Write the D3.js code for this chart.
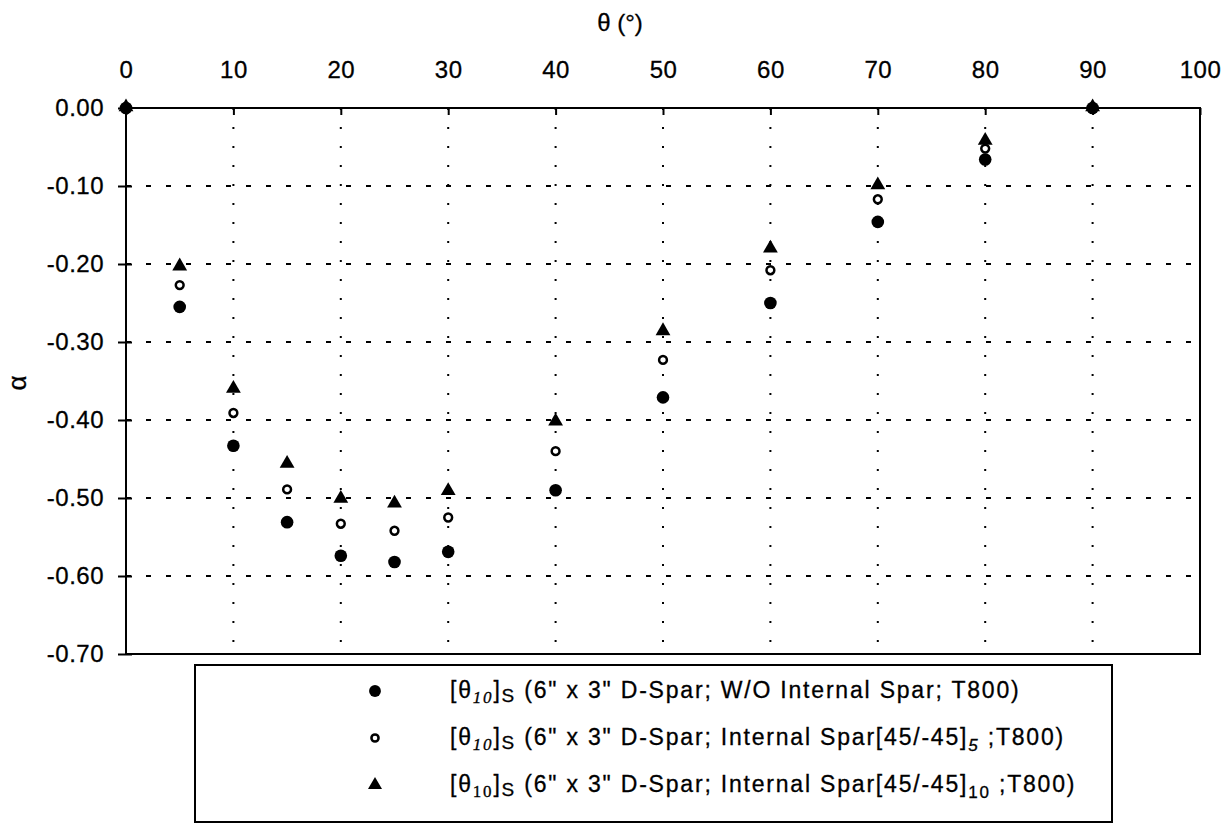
<!DOCTYPE html>
<html>
<head>
<meta charset="utf-8">
<script src="https://cdn.jsdelivr.net/npm/d3@7"></script>
<style>
  body { margin: 0; background: #fff; }
  svg { font-family: "Liberation Sans", Arial, sans-serif; }
  .tick text { font-size: 24px; fill: #000; stroke: #000; stroke-width: 0.3px; letter-spacing: 0.5px; }
  .lbl { stroke: #000; stroke-width: 0.3px; }
</style>
</head>
<body>
<svg class="chart" width="1225" height="825"></svg>
<script>
// data
let angles = [0, 5, 10, 15, 20, 25, 30, 40, 50, 60, 70, 80, 90];
let noSpar = [0, -0.255, -0.433, -0.531, -0.574, -0.582, -0.569, -0.490, -0.371, -0.250, -0.146, -0.066, 0];
let spar5 = [0, -0.227, -0.391, -0.489, -0.533, -0.542, -0.525, -0.440, -0.323, -0.208, -0.117, -0.052, 0];
let spar10 = [0, -0.204, -0.361, -0.457, -0.502, -0.508, -0.492, -0.403, -0.287, -0.181, -0.100, -0.043, 0];
let xTicks = [0, 10, 20, 30, 40, 50, 60, 70, 80, 90, 100];
let yTicks = [0, -0.1, -0.2, -0.3, -0.4, -0.5, -0.6, -0.7];

let margin = {top: 108, right: 25, bottom: 171, left: 126};
let svg = d3.select(".chart");
let width = 1225 - margin.left - margin.right;
let height = 825 - margin.top - margin.bottom;

let g = svg.append("g").attr("transform", translate(margin.left, margin.top));

let x = d3.scaleLinear().domain([0, 100]).range([0, width]);
let y = d3.scaleLinear().domain([0, -0.7]).range([0, height]);

// grid lines
g.selectAll(".hgrid")
  .data(yTicks.slice(1, -1)).enter()
  .append("line")
  .attr("x1", 0).attr("x2", width)
  .attr("y1", d => y(d)).attr("y2", d => y(d))
  .style("stroke", "#000").style("stroke-width", 2)
  .style("stroke-dasharray", "5,15");
g.selectAll(".vgrid")
  .data(xTicks.slice(1, -1)).enter()
  .append("line")
  .attr("x1", d => x(d)).attr("x2", d => x(d))
  .attr("y1", 0).attr("y2", height)
  .style("stroke", "#000").style("stroke-width", 2)
  .style("stroke-dasharray", "2,17");

// frame
g.append("rect")
  .attr("width", width).attr("height", height)
  .style("fill", "none").style("stroke", "#000").style("stroke-width", 2);

// top axis
let xAxis = g.append("g")
  .call(d3.axisTop(x).tickValues(xTicks).tickSizeInner(-7).tickSizeOuter(0).tickPadding(30));
xAxis.select(".domain").remove();
xAxis.selectAll(".tick line").style("stroke-width", 2);

// left axis
let yAxis = g.append("g")
  .call(d3.axisLeft(y).tickValues(yTicks).tickFormat(d3.format(".2f")).tickSizeInner(8).tickSizeOuter(0).tickPadding(14));
yAxis.select(".domain").remove();
yAxis.selectAll(".tick line").attr("x2", 6).attr("x1", -8).style("stroke-width", 2);
yAxis.selectAll(".tick text").text(d => d3.format(".2f")(d).replace("−", "-"));

// titles
svg.append("text").attr("class", "lbl")
  .attr("x", 620).attr("y", 31)
  .style("text-anchor", "middle").style("font-size", "24px")
  .text("θ (°)");
svg.append("text").attr("class", "lbl")
  .attr("transform", "translate(26,383) rotate(-90)")
  .style("text-anchor", "middle").style("font-size", "26px")
  .text("α");

// markers
function drawSeries(vals, kind) {
  let pts = angles.map((a, i) => [a, vals[i]]);
  let sel = g.selectAll(".m-" + kind).data(pts).enter().append("path")
    .attr("transform", d => translate(x(d[0]), y(d[1])));
  if (kind == "filled") {
    sel.attr("d", d3.symbol().type(d3.symbolCircle).size(125)()).style("fill", "#000");
  } else if (kind == "open") {
    sel.attr("d", d3.symbol().type(d3.symbolCircle).size(48)())
      .style("fill", "#fff").style("stroke", "#000").style("stroke-width", 2.5);
  } else {
    sel.attr("d", d3.symbol().type(d3.symbolTriangle).size(95)())
      .attr("transform", d => translate(x(d[0]), y(d[1]) - 1)).style("fill", "#000");
  }
}
drawSeries(noSpar, "filled");
drawSeries(spar5, "open");
drawSeries(spar10, "tri");

// legend
let lg = svg.append("g").attr("transform", translate(195, 665));
lg.append("rect")
  .attr("width", 917).attr("height", 157)
  .style("fill", "#fff").style("stroke", "#000").style("stroke-width", 2);

let legendTexts = [
  ["W/O Internal Spar; T800)", null, null],
  ["Internal Spar[45/-45]", "5", " ;T800)"],
  ["Internal Spar[45/-45]", "10", " ;T800)"]
];
let legendKinds = ["filled", "open", "tri"];

legendTexts.forEach(function(t, i) {
  let yy = 26 + i * 47;
  let m = lg.append("path").attr("transform", translate(180, yy));
  if (legendKinds[i] == "filled") m.attr("d", d3.symbol().type(d3.symbolCircle).size(110)()).style("fill", "#000");
  else if (legendKinds[i] == "open") m.attr("d", d3.symbol().type(d3.symbolCircle).size(40)()).style("fill", "#fff").style("stroke", "#000").style("stroke-width", 2.5);
  else m.attr("d", d3.symbol().type(d3.symbolTriangle).size(85)()).style("fill", "#000");

  let tx = lg.append("text").attr("class", "lbl").attr("x", 255).attr("y", yy + 7)
    .style("font-size", "23px").style("letter-spacing", "1.8px");
  tx.append("tspan").text("[θ");
  tx.append("tspan").attr("dy", 5).style("font-size", "17px").style("font-style", i < 2 ? "italic" : "normal")
    .style("font-family", "Liberation Serif, serif").text("10");
  tx.append("tspan").attr("dy", -5).text("]");
  tx.append("tspan").attr("dy", 4).style("font-size", "19px").text("S");
  tx.append("tspan").attr("dy", -4).text(" (6\" x 3\" D-Spar; " + t[0]);
  if (t[1]) {
    tx.append("tspan").attr("dy", 6).style("font-size", "17px").style("font-style", i == 1 ? "italic" : "normal").text(t[1]);
    tx.append("tspan").attr("dy", -6).text(t[2]);
  }
});

function translate(x, y) {
  return "translate(" + x + "," + y + ")";
}
</script>
</body>
</html>
